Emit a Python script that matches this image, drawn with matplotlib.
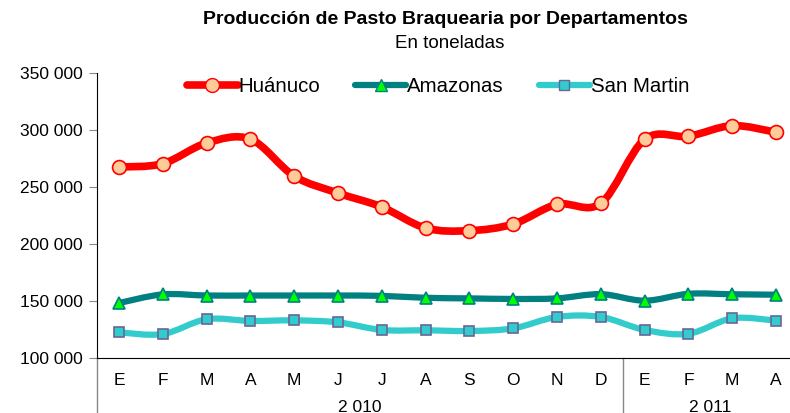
import numpy as np
import matplotlib.pyplot as plt
from matplotlib.path import Path
from matplotlib.patches import PathPatch
from matplotlib.lines import Line2D

plt.rcParams['font.family'] = ['Liberation Sans', 'DejaVu Sans']

months = ['E', 'F', 'M', 'A', 'M', 'J', 'J', 'A', 'S', 'O', 'N', 'D', 'E', 'F', 'M', 'A']
years = ['2 010', '2 011']
year_len = [12, 4]

huanuco = [267500, 270500, 288600, 292000, 259600, 244700, 232500, 214000,
           211700, 217500, 234800, 235700, 291800, 294500, 303800, 298000]
amazonas = [148200, 155800, 154800, 154800, 154800, 154800, 154500, 152800,
            152300, 151800, 152300, 156000, 150300, 156300, 155900, 155500]
san_martin = [122500, 121000, 134000, 132500, 133000, 131300, 124600, 124300,
              123700, 126000, 136000, 136000, 124600, 121300, 134800, 132800]


def smooth_path(x, y, t=1/6):
    # Catmull-Rom style cubic bezier through the points (like Excel smoothed lines)
    x = np.asarray(x, float)
    y = np.asarray(y, float)
    verts = [(x[0], y[0])]
    codes = [Path.MOVETO]
    n = len(x)
    for i in range(n - 1):
        x0, y0 = (x[i - 1], y[i - 1]) if i > 0 else (x[i], y[i])
        x3, y3 = (x[i + 2], y[i + 2]) if i + 2 < n else (x[i + 1], y[i + 1])
        c1 = (x[i] + (x[i + 1] - x0) * t, y[i] + (y[i + 1] - y0) * t)
        c2 = (x[i + 1] - (x3 - x[i]) * t, y[i + 1] - (y3 - y[i]) * t)
        verts += [c1, c2, (x[i + 1], y[i + 1])]
        codes += [Path.CURVE4] * 3
    return Path(verts, codes)


fig = plt.figure(figsize=(7.9, 4.13), dpi=100)
ax = fig.add_axes([97 / 790, (413 - 358) / 413, (798 - 97) / 790, (358 - 73) / 413])

x = np.arange(len(months))
series = [
    ('Huánuco', huanuco, '#FF0000', 5.5, 'o', '#FFCC99', '#FF0000', 10),
    ('Amazonas', amazonas, '#008080', 4.5, '^', '#00FF00', '#008080', 9),
    ('San Martin', san_martin, '#33CCCC', 4.5, 's', '#33CCCC', '#666699', 7.5),
]

handles = []
for name, vals, col, lw, mk, mfc, mec, ms in series:
    patch = PathPatch(smooth_path(x, vals), facecolor='none', edgecolor=col,
                      lw=lw, capstyle='round', joinstyle='round', zorder=2)
    ax.add_patch(patch)
    ax.plot(x, vals, linestyle='none', marker=mk, markersize=ms,
            markerfacecolor=mfc, markeredgecolor=mec, markeredgewidth=1.2, zorder=3)
    handles.append(Line2D([], [], color=col, lw=lw, marker=mk, markersize=ms,
                          markerfacecolor=mfc, markeredgecolor=mec,
                          solid_capstyle='round', label=name))

ax.set_xlim(-0.5, len(months) - 0.5)
ax.set_ylim(100000, 350000)
ax.set_yticks(np.arange(100000, 350001, 50000))
ax.set_yticklabels([f'{v:,}'.replace(',', ' ') for v in range(100000, 350001, 50000)])
ax.set_xticks(x)
ax.set_xticklabels(months)
ax.tick_params(axis='x', length=0, pad=11, labelsize=12.5)
ax.tick_params(axis='y', length=6, color='#888888', labelsize=12.5, pad=4)

for s in ['top', 'right']:
    ax.spines[s].set_visible(False)
ax.spines['left'].set_color('black')
ax.spines['bottom'].set_color('black')

# group separators and year labels below the axis
trans = ax.get_xaxis_transform()
ax.plot([-0.5, -0.5], [0, -0.2], transform=trans, color='#888888', lw=1, clip_on=False)
start = 0
for yr, n in zip(years, year_len):
    end = start + n
    ax.text((start + end - 1) / 2, -0.172, yr, transform=trans, ha='center',
            va='center', fontsize=12.5)
    if end < len(months):
        ax.plot([end - 0.5, end - 0.5], [0, -0.2], transform=trans,
                color='#888888', lw=1, clip_on=False)
    start = end

fig.text(445 / 790, 1 - 20 / 413, 'Producción de Pasto Braquearia por Departamentos',
         ha='center', va='center', fontsize=14, fontweight='bold')
fig.text(450 / 790, 1 - 43 / 413, 'En toneladas', ha='center', va='center', fontsize=13.5)

fig.legend(handles=handles, loc='center', bbox_to_anchor=(438 / 790, 1 - 87 / 413),
           ncol=3, frameon=False, fontsize=14.7, handlelength=2.5,
           handletextpad=0.05, columnspacing=1.7)

fig.savefig('out.png', dpi=100)
